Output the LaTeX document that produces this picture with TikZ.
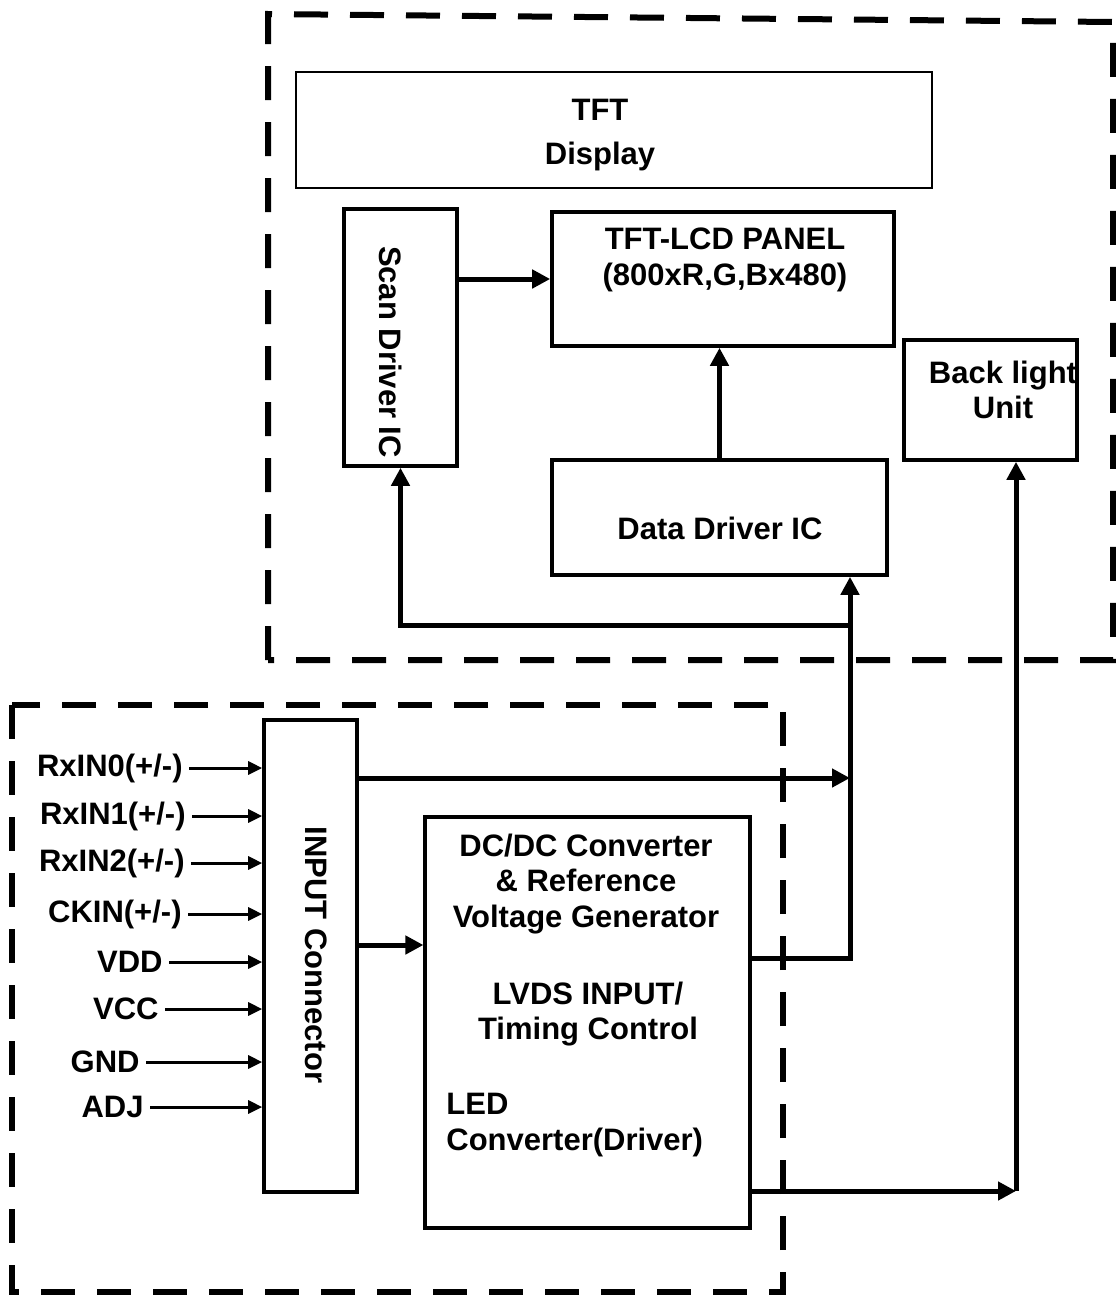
\documentclass[tikz,border=0pt]{standalone}
\usepackage{fontspec}
\setmainfont{Liberation Sans}
\usetikzlibrary{arrows.meta}

\begin{document}
\begin{tikzpicture}[
   x=0.5pt, y=-0.5pt,
   every node/.style={font=\fontsize{15.5}{17.75}\selectfont\bfseries},
   blk/.style={rectangle, draw=black, line width=1.8pt, inner sep=0pt},
   thinblk/.style={rectangle, draw=black, line width=1pt, inner sep=0pt},
   txt/.style={align=center, inner sep=0pt},
   bus/.style={line width=2.5pt, -{Triangle[length=9pt, width=9pt]}},
   pin/.style={line width=1.5pt, -{Triangle[length=7pt, width=6.5pt]}},
   frame/.style={line width=3pt, dash pattern=on 17pt off 11pt}
  ]

  \useasboundingbox (0,0) rectangle (1115,1296);

  % Dashed frames
  \draw[frame] (268,660) -- (268,14) -- (1113,22) -- (1113,660) -- cycle;
  \draw[frame] (12,705) rectangle (783,1292);

  % Display side
  \node (disp) [thinblk, minimum width=318pt, minimum height=58pt] at (614,130) {};
  \node (disptxt) [txt] at (600,135) {TFT\\[4pt]Display};

  \node (scan) [blk, minimum width=56.5pt, minimum height=128.5pt] at (400.5,337.5) {};
  \node (scantxt) [txt, rotate=-90] at (391,352) {Scan Driver IC};

  \node (panel) [blk, minimum width=171pt, minimum height=67pt] at (723,279) {};
  \node (paneltxt) [txt] at (725,260) {TFT-LCD PANEL\\(800xR,G,Bx480)};

  \node (data) [blk, minimum width=167.5pt, minimum height=57.5pt] at (719.5,517.5) {};
  \node (datatxt) [txt] at (720,528) {Data Driver IC};

  \node (bl) [blk, minimum width=86.5pt, minimum height=60pt] at (990.5,400) {};
  \node (bltxt) [txt] at (1003,390) {Back light\\Unit};

  % Board side
  \node (inp) [blk, minimum width=46.5pt, minimum height=236pt] at (310.5,956) {};
  \node (inptxt) [txt, rotate=-90] at (316,955) {INPUT Connector};

  \node (dc) [blk, line width=1.6pt, minimum width=162.5pt, minimum height=205.5pt] at (587.5,1022.5) {};
  \node (dctxt) [txt] at (586,884) {DC/DC Converter\\\& Reference\\Voltage Generator};
  \node (lvdstxt) [txt] at (588,1014) {LVDS INPUT/\\Timing Control};
  \node (ledtxt) [txt, align=left, anchor=west] at (446,1125) {LED\\Converter(Driver)};

  \coordinate (tap) at (850,958);
  \coordinate (split) at (850,625);
  \coordinate (led) at (1016,1191);

  % Connectors
  \draw[bus] (scan.east |- panel.west) -- (panel.west);
  \draw[bus] (data.north) -- (data.north |- panel.south);
  \draw[bus] (dc.east |- tap) -- (tap) -- (tap |- data.south);
  \draw[bus] (split) -| (scan.south);
  \draw[bus] (inp.east |- 0,778) -- (tap |- 0,778);
  \draw[bus] (inp.east |- 0,945) -- (dc.west |- 0,945);
  \draw[bus] (dc.east |- led) -- (led);
  \draw[bus] (led) -- (led |- bl.south);

  % Input pins
  \foreach \pn/\lbl/\xe/\yy in {rx0/{RxIN0(+/-)}/189/768, rx1/{RxIN1(+/-)}/192/816,
      rx2/{RxIN2(+/-)}/191/863, ckin/{CKIN(+/-)}/188/914, vdd/VDD/169/962,
      vcc/VCC/165/1009, gnd/GND/146/1062, adj/ADJ/150/1107} {
    \node (\pn) [anchor=east, inner sep=3pt] at (\xe,\yy) {\lbl};
    \draw[pin] (\pn.east) -- (inp.west |- \pn.east);
  }

\end{tikzpicture}
\end{document}
